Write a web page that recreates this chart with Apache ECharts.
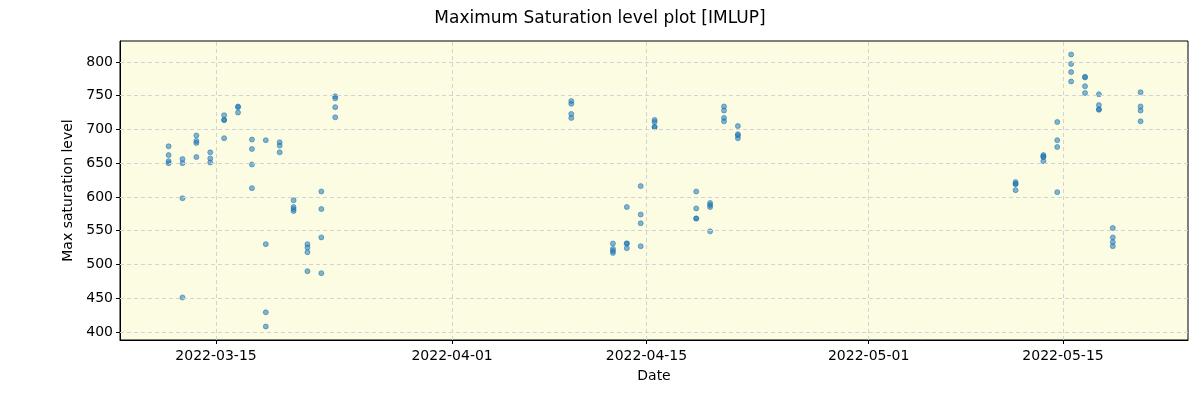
<!DOCTYPE html>
<html>
<head>
<meta charset="utf-8">
<script src="https://cdn.jsdelivr.net/npm/echarts@6/dist/echarts.min.js"></script>
<style>
  html, body { margin: 0; padding: 0; background: #fff; }
  #chart { width: 1200px; height: 400px; }
</style>
</head>
<body>
<div id="chart"></div>
<script>
// observation days (each at ~14:00) and the saturation levels measured that day
const obsDays = [
  "2022-03-11", "2022-03-12", "2022-03-13", "2022-03-14", "2022-03-15",
  "2022-03-16", "2022-03-17", "2022-03-18", "2022-03-19", "2022-03-20",
  "2022-03-21", "2022-03-22", "2022-03-23",
  "2022-04-09", "2022-04-12", "2022-04-13", "2022-04-14", "2022-04-15",
  "2022-04-18", "2022-04-19", "2022-04-20", "2022-04-21",
  "2022-05-11", "2022-05-13", "2022-05-14", "2022-05-15", "2022-05-16",
  "2022-05-17", "2022-05-18", "2022-05-20",
];
const satLevels = [
  [675, 662, 653, 650],
  [656, 650, 598, 451],
  [691, 683, 680, 659],
  [666, 657, 651],
  [721, 714, 714, 687],
  [734, 733, 725],
  [685, 671, 648, 613],
  [684, 530, 429, 408],
  [681, 676, 666],
  [595, 585, 582, 579],
  [530, 525, 518, 490],
  [608, 582, 540, 487],
  [749, 746, 733, 718],
  [742, 738, 723, 717],
  [531, 523, 520, 517],
  [585, 531, 531, 524],
  [616, 574, 561, 527],
  [714, 711, 704, 703],
  [608, 583, 568, 568],
  [591, 588, 585, 549],
  [734, 728, 717, 712],
  [705, 693, 691, 687],
  [622, 619, 619, 610],
  [662, 660, 659, 653],
  [711, 684, 674, 607],
  [811, 797, 785, 771],
  [778, 777, 764, 754],
  [752, 736, 730, 729],
  [554, 540, 533, 527],
  [755, 734, 728, 712],
];
const xTickDates = ["2022-03-15", "2022-04-01", "2022-04-15", "2022-05-01", "2022-05-15"];
const yTicks = [400, 450, 500, 550, 600, 650, 700, 750, 800];

function ts(s) {
  return Date.parse(s + "Z");
}

var points = [];
obsDays.forEach(function(d, i) {
  satLevels[i].forEach(function(v) {
    points.push([ts(d + "T14:00:00"), v]);
  });
});
var xTicks = xTickDates.map(function(d) { return ts(d + "T00:00:00"); });

var gridStyle = { color: "#d3d3d3", type: [4, 3], width: 1 };
var font = "DejaVu Sans";

var chartDom = document.getElementById("chart");
var myChart = echarts.init(chartDom);
var option = {
  animation: false,
  textStyle: { fontFamily: font },
  title: {
    text: "Maximum Saturation level plot [IMLUP]",
    left: "center",
    top: 5,
    textStyle: { fontFamily: font, fontSize: 17, fontWeight: "normal", color: "#000" },
  },
  grid: {
    left: 120,
    right: 12,
    top: 41,
    bottom: 60,
    show: true,
    backgroundColor: "#fcfce3",
    borderColor: "#000",
    borderWidth: 1,
  },
  xAxis: {
    type: "value",
    min: ts("2022-03-08T02:00:00"),
    max: ts("2022-05-24T00:00:00"),
    name: "Date",
    nameLocation: "middle",
    nameGap: 29,
    nameTextStyle: { fontFamily: font, fontSize: 14, color: "#000" },
    axisLine: { show: true, lineStyle: { color: "#000" } },
    axisTick: { show: true, customValues: xTicks, length: 4, lineStyle: { color: "#000" } },
    axisLabel: {
      customValues: xTicks,
      fontFamily: font,
      fontSize: 14,
      color: "#000",
      margin: 9,
      formatter: function(v) {
        return new Date(v).toISOString().slice(0, 10);
      },
    },
    splitLine: { show: false },
  },
  yAxis: {
    type: "value",
    min: 388,
    max: 831,
    name: "Max saturation level",
    nameLocation: "middle",
    nameGap: 45,
    nameTextStyle: { fontFamily: font, fontSize: 14, color: "#000" },
    axisLine: { show: true, lineStyle: { color: "#000" } },
    axisTick: { show: true, customValues: yTicks, length: 4, lineStyle: { color: "#000" } },
    axisLabel: {
      customValues: yTicks,
      fontFamily: font,
      fontSize: 14,
      color: "#000",
      margin: 7,
    },
    splitLine: { show: false },
  },
  series: [
    {
      name: "grid",
      type: "scatter",
      data: [],
      silent: true,
      markLine: {
        silent: true,
        symbol: "none",
        label: { show: false },
        lineStyle: gridStyle,
        data: xTicks.map(function(t) { return { xAxis: t }; })
          .concat(yTicks.map(function(v) { return { yAxis: v }; })),
      },
    },
    {
      name: "Max saturation",
      type: "scatter",
      symbol: "circle",
      symbolSize: 5,
      data: points,
      itemStyle: {
        color: "#1f77b4",
        borderColor: "#1f77b4",
        borderWidth: 1,
        opacity: 0.55,
      },
    },
  ],
};

myChart.setOption(option);

window.addEventListener("resize", function() {
  myChart.resize();
});
</script>
</body>
</html>
